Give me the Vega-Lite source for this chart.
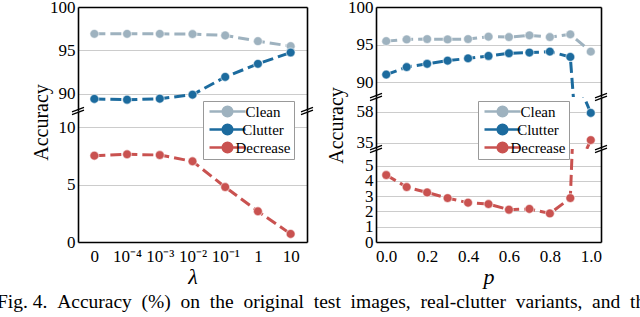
{
  "$schema": "https://vega.github.io/schema/vega-lite/v6.json",
  "padding": {"left": -3, "top": -2, "right": 0, "bottom": 0},
  "config": {
    "view": {"stroke": null},
    "font": "Liberation Serif",
    "style": {"guide-label": {"font": "Liberation Serif"}, "guide-title": {"font": "Liberation Serif"}},
    "axis": {"labelFont": "Liberation Serif", "labelFontSize": 17, "labelColor": "black", "titleFont": "Liberation Serif", "titleFontWeight": "normal", "titleColor": "black", "domainColor": "black", "domainWidth": 1.6, "gridColor": "#cccccc", "gridWidth": 1, "ticks": false, "labelPadding": 3, "labelFlush": false, "labelOverlap": false},
    "legend": {"labelFont": "Liberation Serif", "labelFontSize": 15, "labelColor": "black", "orient": "none", "title": null, "symbolType": "M -1 0 L 2.2 0 M 4.8 0 L 8 0 M 2.3 0 A 1.2 1.2 0 1 1 4.7 0 A 1.2 1.2 0 1 1 2.3 0", "symbolSize": 64, "symbolStrokeWidth": 2.5, "strokeColor": "#999999", "fillColor": "white", "padding": 3, "rowPadding": 2, "clipHeight": 15, "labelOffset": 42, "labelAlign": "center", "cornerRadius": 0}
  },
  "datasets": {
    "lam": [
      {"lambda": "0", "series": "Clean", "acc": 96.9},
      {"lambda": "10⁻⁴", "series": "Clean", "acc": 96.9},
      {"lambda": "10⁻³", "series": "Clean", "acc": 96.9},
      {"lambda": "10⁻²", "series": "Clean", "acc": 96.88},
      {"lambda": "10⁻¹", "series": "Clean", "acc": 96.72},
      {"lambda": "1", "series": "Clean", "acc": 96.06},
      {"lambda": "10", "series": "Clean", "acc": 95.48},
      {"lambda": "0", "series": "Clutter", "acc": 89.39},
      {"lambda": "10⁻⁴", "series": "Clutter", "acc": 89.3},
      {"lambda": "10⁻³", "series": "Clutter", "acc": 89.42},
      {"lambda": "10⁻²", "series": "Clutter", "acc": 89.88},
      {"lambda": "10⁻¹", "series": "Clutter", "acc": 91.93},
      {"lambda": "1", "series": "Clutter", "acc": 93.44},
      {"lambda": "10", "series": "Clutter", "acc": 94.75},
      {"lambda": "0", "series": "Decrease", "acc": 7.51},
      {"lambda": "10⁻⁴", "series": "Decrease", "acc": 7.63},
      {"lambda": "10⁻³", "series": "Decrease", "acc": 7.57},
      {"lambda": "10⁻²", "series": "Decrease", "acc": 7.02},
      {"lambda": "10⁻¹", "series": "Decrease", "acc": 4.78},
      {"lambda": "1", "series": "Decrease", "acc": 2.67},
      {"lambda": "10", "series": "Decrease", "acc": 0.7}
    ],
    "pp": [
      {"p": 0.0, "series": "Clean", "acc": 95.45},
      {"p": 0.1, "series": "Clean", "acc": 95.68},
      {"p": 0.2, "series": "Clean", "acc": 95.72},
      {"p": 0.3, "series": "Clean", "acc": 95.68},
      {"p": 0.4, "series": "Clean", "acc": 95.72},
      {"p": 0.5, "series": "Clean", "acc": 96.04},
      {"p": 0.6, "series": "Clean", "acc": 95.99},
      {"p": 0.7, "series": "Clean", "acc": 96.22},
      {"p": 0.8, "series": "Clean", "acc": 95.99},
      {"p": 0.9, "series": "Clean", "acc": 96.35},
      {"p": 1.0, "series": "Clean", "acc": 94.05},
      {"p": 0.0, "series": "Clutter", "acc": 90.99},
      {"p": 0.1, "series": "Clutter", "acc": 91.99},
      {"p": 0.2, "series": "Clutter", "acc": 92.43},
      {"p": 0.3, "series": "Clutter", "acc": 92.84},
      {"p": 0.4, "series": "Clutter", "acc": 93.15},
      {"p": 0.5, "series": "Clutter", "acc": 93.47},
      {"p": 0.6, "series": "Clutter", "acc": 93.83},
      {"p": 0.7, "series": "Clutter", "acc": 93.92},
      {"p": 0.8, "series": "Clutter", "acc": 94.05},
      {"p": 0.9, "series": "Clutter", "acc": 93.34},
      {"p": 1.0, "series": "Clutter", "acc": 57.3},
      {"p": 0.0, "series": "Decrease", "acc": 4.38},
      {"p": 0.1, "series": "Decrease", "acc": 3.59},
      {"p": 0.2, "series": "Decrease", "acc": 3.24},
      {"p": 0.3, "series": "Decrease", "acc": 2.87},
      {"p": 0.4, "series": "Decrease", "acc": 2.57},
      {"p": 0.5, "series": "Decrease", "acc": 2.48},
      {"p": 0.6, "series": "Decrease", "acc": 2.11},
      {"p": 0.7, "series": "Decrease", "acc": 2.16},
      {"p": 0.8, "series": "Decrease", "acc": 1.87},
      {"p": 0.9, "series": "Decrease", "acc": 2.87},
      {"p": 1.0, "series": "Decrease", "acc": 36.8}
    ]
  },
  "title": {"text": "Fig. 4. \u00A0Accuracy \u00A0(%) \u00A0on \u00A0the \u00A0original \u00A0test \u00A0images, \u00A0real-clutter \u00A0variants, \u00A0and \u00A0th", "orient": "bottom", "anchor": "start", "frame": "group", "font": "Liberation Serif", "fontSize": 19.5, "fontWeight": "normal", "color": "black", "dx": -81, "offset": 6},
  "spacing": 10,
  "resolve": {"scale": {"color": "independent"}, "legend": {"color": "independent"}},
  "hconcat": [
    {
      "spacing": 0,
      "bounds": "flush",
      "resolve": {"scale": {"color": "independent"}, "legend": {"color": "independent"}},
      "vconcat": [
        {
          "width": 229, "height": 104,
          "resolve": {"scale": {"x": "independent"}, "axis": {"y": "independent"}},
          "layer": [
            {"data": {"name": "lam"}, "mark": {"type": "line", "strokeDash": [11, 5], "strokeWidth": 3, "clip": true},
             "encoding": {
               "x": {"field": "lambda", "type": "ordinal", "sort": ["0", "10⁻⁴", "10⁻³", "10⁻²", "10⁻¹", "1", "10"], "scale": {"type": "point", "padding": 0.5}, "axis": {"orient": "top", "labels": false, "ticks": false, "grid": false, "title": null}},
               "y": {"field": "acc", "type": "quantitative", "scale": {"domain": [88, 100], "nice": false, "zero": false}, "axis": {"values": [90, 95, 100], "grid": true, "labelFont": "Liberation Serif", "title": "Accuracy", "titleFontSize": 20, "titleX": -37, "titleY": 115, "titleAngle": -90, "titleAlign": "center", "titleBaseline": "middle"}},
               "color": {"field": "series", "type": "nominal", "scale": {"domain": ["Clean", "Clutter", "Decrease"], "range": ["#9eb2bf", "#1c6b9e", "#c95250"]}, "legend": null},
               "order": {"value": null}
             }},
            {"data": {"name": "lam"}, "mark": {"type": "point", "filled": true, "shape": "circle", "size": 80, "stroke": "#ffffff", "strokeWidth": 1.2, "strokeOpacity": 0.5, "opacity": 1, "clip": true},
             "encoding": {
               "x": {"field": "lambda", "type": "ordinal", "sort": ["0", "10⁻⁴", "10⁻³", "10⁻²", "10⁻¹", "1", "10"], "scale": {"type": "point", "padding": 0.5}, "axis": null},
               "y": {"field": "acc", "type": "quantitative", "scale": {"domain": [88, 100], "nice": false, "zero": false}, "axis": {"orient": "right", "labels": false, "grid": false, "ticks": false, "title": null}},
               "color": {"field": "series", "type": "nominal", "scale": {"domain": ["Clean", "Clutter", "Decrease"], "range": ["#9eb2bf", "#1c6b9e", "#c95250"]}, "legend": null}
             }},
            {"data": {"values": [{}]}, "mark": {"type": "point", "shape": "M -1 0.15 L 1 -0.6 M -1 0.6 L 1 -0.15", "filled": false, "stroke": "black", "strokeWidth": 1.3, "size": 144, "opacity": 1},
             "encoding": {"x": {"datum": 0, "type": "quantitative", "scale": {"domain": [0, 1]}, "axis": null}, "y": {"datum": 88, "type": "quantitative", "axis": null}}},
            {"data": {"values": [{}]}, "mark": {"type": "point", "shape": "M -1 0.15 L 1 -0.6 M -1 0.6 L 1 -0.15", "filled": false, "stroke": "black", "strokeWidth": 1.3, "size": 144, "opacity": 1},
             "encoding": {"x": {"datum": 1, "type": "quantitative", "scale": {"domain": [0, 1]}, "axis": null}, "y": {"datum": 88, "type": "quantitative", "axis": null}}}
          ]
        },
        {
          "width": 229, "height": 131,
          "resolve": {"scale": {"x": "independent"}, "axis": {"y": "independent"}},
          "layer": [
            {"data": {"name": "lam"}, "mark": {"type": "line", "strokeDash": [11, 5], "strokeWidth": 3, "clip": true},
             "encoding": {
               "x": {"field": "lambda", "type": "ordinal", "sort": ["0", "10⁻⁴", "10⁻³", "10⁻²", "10⁻¹", "1", "10"], "scale": {"type": "point", "padding": 0.5}, "axis": {"orient": "bottom", "labelAngle": 0, "labelPadding": 6, "labelFont": "Liberation Serif", "grid": false, "title": "λ", "titleFontSize": 22, "titleFontStyle": "italic", "titlePadding": 2}},
               "y": {"field": "acc", "type": "quantitative", "scale": {"domain": [0, 11.4], "nice": false, "zero": false}, "axis": {"values": [0, 5, 10], "grid": true, "labelFont": "Liberation Serif", "title": null}},
               "color": {"field": "series", "type": "nominal", "scale": {"domain": ["Clean", "Clutter", "Decrease"], "range": ["#9eb2bf", "#1c6b9e", "#c95250"]},
                 "legend": {"legendX": 125, "legendY": -10, "labelFont": "Liberation Serif"}},
               "order": {"value": null}
             }},
            {"data": {"name": "lam"}, "mark": {"type": "point", "filled": true, "shape": "circle", "size": 80, "stroke": "#ffffff", "strokeWidth": 1.2, "strokeOpacity": 0.5, "opacity": 1, "clip": true},
             "encoding": {
               "x": {"field": "lambda", "type": "ordinal", "sort": ["0", "10⁻⁴", "10⁻³", "10⁻²", "10⁻¹", "1", "10"], "scale": {"type": "point", "padding": 0.5}, "axis": null},
               "y": {"field": "acc", "type": "quantitative", "scale": {"domain": [0, 11.4], "nice": false, "zero": false}, "axis": {"orient": "right", "labels": false, "grid": false, "ticks": false, "title": null}},
               "color": {"field": "series", "type": "nominal", "scale": {"domain": ["Clean", "Clutter", "Decrease"], "range": ["#9eb2bf", "#1c6b9e", "#c95250"]},
                 "legend": {"legendX": 125, "legendY": -10, "labelFont": "Liberation Serif"}}
             }}
          ]
        }
      ]
    },
    {
      "spacing": 0,
      "bounds": "flush",
      "resolve": {"scale": {"color": "independent"}, "legend": {"color": "independent"}},
      "vconcat": [
        {
          "width": 225, "height": 90,
          "resolve": {"scale": {"x": "independent"}, "axis": {"y": "independent"}},
          "layer": [
            {"data": {"name": "pp"}, "mark": {"type": "line", "strokeDash": [11, 5], "strokeWidth": 3, "clip": true},
             "encoding": {
               "x": {"field": "p", "type": "quantitative", "scale": {"domain": [-0.05, 1.05], "nice": false, "zero": false}, "axis": {"orient": "top", "labels": false, "ticks": false, "grid": false, "title": null}},
               "y": {"field": "acc", "type": "quantitative", "scale": {"domain": [88, 100], "nice": false, "zero": false}, "axis": {"values": [90, 95, 100], "grid": true, "labelFont": "Liberation Serif", "title": "Accuracy", "titleFontSize": 20, "titleX": -40, "titleY": 118, "titleAngle": -90, "titleAlign": "center", "titleBaseline": "middle"}},
               "color": {"field": "series", "type": "nominal", "scale": {"domain": ["Clean", "Clutter", "Decrease"], "range": ["#9eb2bf", "#1c6b9e", "#c95250"]}, "legend": null}
             }},
            {"data": {"name": "pp"}, "mark": {"type": "point", "filled": true, "shape": "circle", "size": 80, "stroke": "#ffffff", "strokeWidth": 1.2, "strokeOpacity": 0.5, "opacity": 1, "clip": true},
             "encoding": {
               "x": {"field": "p", "type": "quantitative", "scale": {"domain": [-0.05, 1.05], "nice": false, "zero": false}, "axis": null},
               "y": {"field": "acc", "type": "quantitative", "scale": {"domain": [88, 100], "nice": false, "zero": false}, "axis": {"orient": "right", "labels": false, "grid": false, "ticks": false, "title": null}},
               "color": {"field": "series", "type": "nominal", "scale": {"domain": ["Clean", "Clutter", "Decrease"], "range": ["#9eb2bf", "#1c6b9e", "#c95250"]}, "legend": null}
             }},
            {"data": {"values": [{}]}, "mark": {"type": "point", "shape": "M -1 0.15 L 1 -0.6 M -1 0.6 L 1 -0.15", "filled": false, "stroke": "black", "strokeWidth": 1.3, "size": 144, "opacity": 1},
             "encoding": {"x": {"datum": 0, "type": "quantitative", "scale": {"domain": [0, 1]}, "axis": null}, "y": {"datum": 88, "type": "quantitative", "axis": null}}},
            {"data": {"values": [{}]}, "mark": {"type": "point", "shape": "M -1 0.15 L 1 -0.6 M -1 0.6 L 1 -0.15", "filled": false, "stroke": "black", "strokeWidth": 1.3, "size": 144, "opacity": 1},
             "encoding": {"x": {"datum": 1, "type": "quantitative", "scale": {"domain": [0, 1]}, "axis": null}, "y": {"datum": 88, "type": "quantitative", "axis": null}}}
          ]
        },
        {
          "width": 225, "height": 52,
          "resolve": {"scale": {"x": "independent"}, "axis": {"y": "independent"}},
          "layer": [
            {"data": {"name": "pp"}, "mark": {"type": "line", "strokeDash": [11, 5], "strokeWidth": 3, "clip": true},
             "encoding": {
               "x": {"field": "p", "type": "quantitative", "scale": {"domain": [-0.05, 1.05], "nice": false, "zero": false}, "axis": null},
               "y": {"field": "acc", "type": "quantitative", "scale": {"domain": [30.1, 69.3], "nice": false, "zero": false}, "axis": {"values": [35, 58], "grid": true, "labelFont": "Liberation Serif", "title": null}},
               "color": {"field": "series", "type": "nominal", "scale": {"domain": ["Clean", "Clutter", "Decrease"], "range": ["#9eb2bf", "#1c6b9e", "#c95250"]},
                 "legend": {"legendX": 102, "legendY": 4, "labelFont": "Liberation Serif"}}
             }},
            {"data": {"name": "pp"}, "mark": {"type": "point", "filled": true, "shape": "circle", "size": 80, "stroke": "#ffffff", "strokeWidth": 1.2, "strokeOpacity": 0.5, "opacity": 1, "clip": true},
             "encoding": {
               "x": {"field": "p", "type": "quantitative", "scale": {"domain": [-0.05, 1.05], "nice": false, "zero": false}, "axis": null},
               "y": {"field": "acc", "type": "quantitative", "scale": {"domain": [30.1, 69.3], "nice": false, "zero": false}, "axis": {"orient": "right", "labels": false, "grid": false, "ticks": false, "title": null}},
               "color": {"field": "series", "type": "nominal", "scale": {"domain": ["Clean", "Clutter", "Decrease"], "range": ["#9eb2bf", "#1c6b9e", "#c95250"]},
                 "legend": {"legendX": 102, "legendY": 4, "labelFont": "Liberation Serif"}}
             }},
            {"data": {"values": [{}]}, "mark": {"type": "point", "shape": "M -1 0.15 L 1 -0.6 M -1 0.6 L 1 -0.15", "filled": false, "stroke": "black", "strokeWidth": 1.3, "size": 144, "opacity": 1},
             "encoding": {"x": {"datum": 0, "type": "quantitative", "scale": {"domain": [0, 1]}, "axis": null}, "y": {"datum": 30.1, "type": "quantitative", "axis": null}}},
            {"data": {"values": [{}]}, "mark": {"type": "point", "shape": "M -1 0.15 L 1 -0.6 M -1 0.6 L 1 -0.15", "filled": false, "stroke": "black", "strokeWidth": 1.3, "size": 144, "opacity": 1},
             "encoding": {"x": {"datum": 1, "type": "quantitative", "scale": {"domain": [0, 1]}, "axis": null}, "y": {"datum": 30.1, "type": "quantitative", "axis": null}}}
          ]
        },
        {
          "width": 225, "height": 93,
          "resolve": {"scale": {"x": "independent"}, "axis": {"y": "independent"}},
          "layer": [
            {"data": {"name": "pp"}, "mark": {"type": "line", "strokeDash": [11, 5], "strokeWidth": 3, "clip": true},
             "encoding": {
               "x": {"field": "p", "type": "quantitative", "scale": {"domain": [-0.05, 1.05], "nice": false, "zero": false}, "axis": {"orient": "bottom", "values": [0, 0.2, 0.4, 0.6, 0.8, 1.0], "format": ".1f", "labelPadding": 6, "labelFont": "Liberation Serif", "grid": false, "title": "p", "titleFontSize": 22, "titleFontStyle": "italic", "titlePadding": 2}},
               "y": {"field": "acc", "type": "quantitative", "scale": {"domain": [0, 6.08], "nice": false, "zero": false}, "axis": {"values": [0, 1, 2, 3, 4, 5], "grid": true, "labelFont": "Liberation Serif", "title": null}},
               "color": {"field": "series", "type": "nominal", "scale": {"domain": ["Clean", "Clutter", "Decrease"], "range": ["#9eb2bf", "#1c6b9e", "#c95250"]}, "legend": null}
             }},
            {"data": {"name": "pp"}, "mark": {"type": "point", "filled": true, "shape": "circle", "size": 80, "stroke": "#ffffff", "strokeWidth": 1.2, "strokeOpacity": 0.5, "opacity": 1, "clip": true},
             "encoding": {
               "x": {"field": "p", "type": "quantitative", "scale": {"domain": [-0.05, 1.05], "nice": false, "zero": false}, "axis": null},
               "y": {"field": "acc", "type": "quantitative", "scale": {"domain": [0, 6.08], "nice": false, "zero": false}, "axis": {"orient": "right", "labels": false, "grid": false, "ticks": false, "title": null}},
               "color": {"field": "series", "type": "nominal", "scale": {"domain": ["Clean", "Clutter", "Decrease"], "range": ["#9eb2bf", "#1c6b9e", "#c95250"]}, "legend": null}
             }}
          ]
        }
      ]
    }
  ]
}
